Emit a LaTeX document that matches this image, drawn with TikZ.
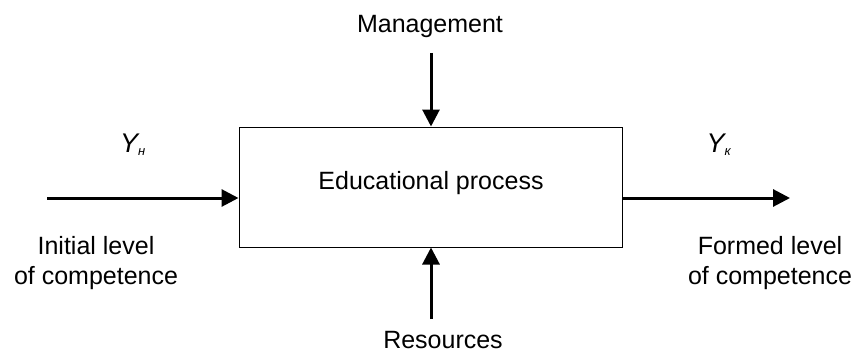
\documentclass[tikz,border=0pt]{standalone}
\usepackage{fontspec}
\setmainfont{Liberation Sans}
\usetikzlibrary{arrows.meta}
\begin{document}
\begin{tikzpicture}[x=1pt,y=-1pt,
  lbl/.style={font=\fontsize{25}{30}\selectfont, inner sep=0pt, anchor=base, align=center},
  sym/.style={font=\fontsize{27}{30}\selectfont\itshape, inner sep=0pt, anchor=base},
  flow/.style={line width=3pt, -{Triangle[length=17pt,width=17pt]}},
  procbox/.style={draw, line width=1pt, minimum width=383pt, minimum height=120pt, inner sep=0pt}]
\useasboundingbox (0,0) rectangle (864,353);
\node[procbox] (box) at (430.5,187) {};
\node[lbl] (proc) at (431,189) {Educational process};
\node[lbl] (mgmt) at (430,33) {Management};
\node[lbl] (res) at (443,348) {Resources};
\node[lbl, anchor=north] (init) at (96,236) {Initial level\\of competence};
\node[lbl, anchor=north] (formed) at (770,236) {Formed level\\of competence};
\node[sym] (yn) at (133,152) {Y\textsubscript{\fontsize{13}{13}\selectfont н}};
\node[sym] (yk) at (719,152) {Y\textsubscript{\fontsize{13}{13}\selectfont к}};
\coordinate (inL) at (47,198);
\coordinate (outR) at (790,198);
\coordinate (topS) at (431,53);
\coordinate (botS) at (431,319);
\draw[flow] (inL) -- (inL -| box.west);
\draw[flow] (outR -| box.east) -- (outR);
\draw[flow] (topS) -- (topS |- box.north);
\draw[flow] (botS) -- (botS |- box.south);
\end{tikzpicture}
\end{document}
